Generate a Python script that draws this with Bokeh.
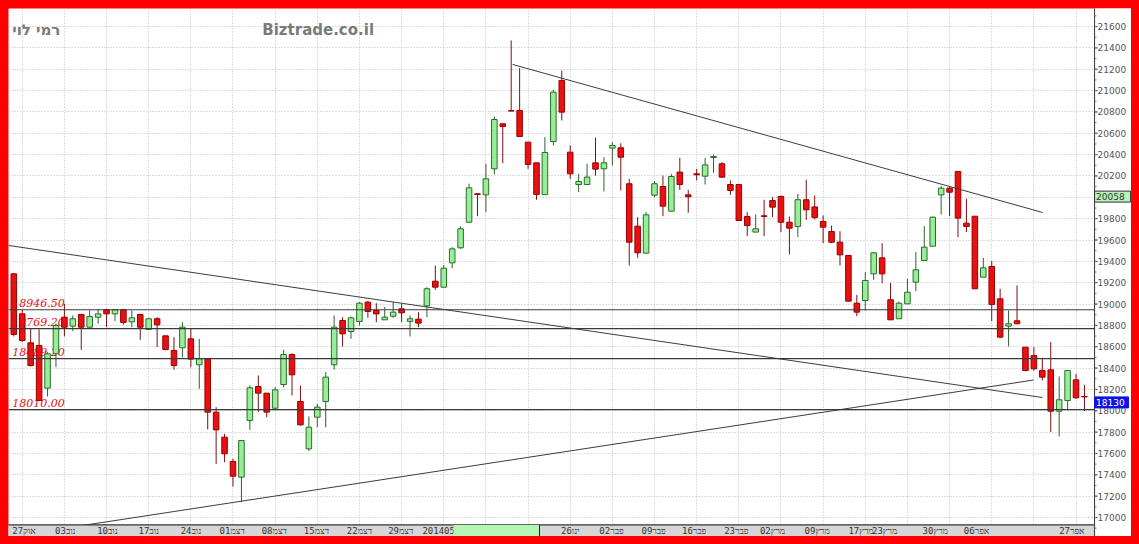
from bokeh.plotting import figure
from bokeh.models import ColumnDataSource, Range1d, FixedTicker, GlobalInlineStyleSheet
from bokeh.embed import file_html
from bokeh.resources import INLINE
from bokeh.core.properties import value

# ---------------- data (daily candles, index 0 = 24 Oct 2013) ----------------
opens = [19283, 18908, 18637, 18612, 18212, 18534, 18877, 18793, 18902, 18783,
         18877, 18946, 18908, 18946, 18833, 18902, 18762, 18862, 18702, 18565,
         18590, 18674, 18431, 18487, 17987, 17753, 17525, 17378, 17909, 18227,
         18165, 18024, 18246, 18527, 18087, 17643, 17940, 18087, 18431, 18846,
         18743, 18837, 19018, 18940, 18852, 18886, 18955, 18837, 18858, 18983,
         19214, 19158, 19386, 19527, 19767, 20033, 20023, 20267, 20689, 20812,
         20814, 20517, 20323, 20025, 20523, 21095, 20423, 20120, 20120, 20323,
         20267, 20461, 20464, 20127, 19730, 19477, 20020, 20101, 19870, 20236,
         20023, 20220, 20198, 20373, 20314, 20120, 20120, 19820, 19674, 19827,
         19970, 20008, 19767, 19727, 19977, 19910, 19774, 19680, 19580, 19455,
         19008, 19033, 19283, 19433, 19040, 18862, 19002, 19205, 19408, 19542,
         20023, 20086, 20242, 19758, 19823, 19252, 19352, 19049, 18793, 18843,
         18596, 18518, 18377, 18384, 17996, 18096, 18290, 18134]
highs = [19290, 18946, 18768, 18762, 18549, 18815, 19002, 18893, 18908, 18940,
         18955, 18955, 18955, 18955, 18940, 18908, 18871, 18877, 18705, 18690,
         18830, 18768, 18674, 18487, 18034, 17784, 17550, 17721, 18237, 18331,
         18165, 18221, 18571, 18540, 18237, 17946, 18065, 18362, 18893, 18877,
         18883, 19018, 19027, 19008, 18971, 19018, 19002, 18893, 18924, 19158,
         19361, 19367, 19533, 19727, 20127, 20033, 20314, 20757, 20689, 21469,
         21210, 20517, 20323, 20564, 21007, 21188, 20486, 20220, 20314, 20560,
         20376, 20517, 20507, 20173, 19814, 19861, 20151, 20204, 20220, 20370,
         20070, 20267, 20367, 20398, 20329, 20158, 20120, 19861, 19839, 19977,
         20002, 20017, 19820, 20033, 20164, 20017, 19830, 19736, 19683, 19455,
         19086, 19299, 19486, 19570, 19199, 19024, 19236, 19486, 19730, 19820,
         20105, 20095, 20242, 19986, 19823, 19433, 19402, 19143, 18940, 19174,
         18596, 18596, 18496, 18643, 18321, 18377, 18346, 18243]
lows = [18696, 18643, 18415, 18090, 18134, 18409, 18696, 18746, 18571, 18768,
        18815, 18783, 18840, 18808, 18783, 18665, 18758, 18596, 18565, 18384,
        18502, 18409, 18206, 17825, 17503, 17518, 17290, 17144, 17821, 17987,
        17940, 18003, 18221, 18143, 17862, 17622, 17846, 17846, 18384, 18602,
        18674, 18799, 18871, 18830, 18852, 18871, 18830, 18696, 18783, 18877,
        19133, 19158, 19336, 19517, 19758, 19823, 19861, 20214, 20320, 20807,
        20570, 20267, 19977, 20025, 20486, 20720, 20173, 20048, 20120, 20204,
        20055, 20298, 20064, 19361, 19433, 19477, 20002, 19823, 19870, 20070,
        19855, 20158, 20120, 20230, 20183, 20023, 19783, 19636, 19674, 19636,
        19814, 19674, 19464, 19627, 19789, 19792, 19570, 19570, 19361, 19027,
        18886, 18940, 19227, 19196, 18852, 18862, 19002, 19121, 19408, 19542,
        19839, 19823, 19627, 19674, 19143, 19252, 18840, 18680, 18602, 18815,
        18371, 18377, 18284, 17800, 17759, 18003, 18112, 17996]
closes = [18715, 18658, 18424, 18096, 18534, 18799, 18783, 18862, 18783, 18883,
          18908, 18908, 18946, 18827, 18871, 18783, 18862, 18805, 18574, 18424,
          18783, 18484, 18487, 17987, 17821, 17597, 17387, 17721, 18215, 18165,
          17987, 18196, 18527, 18337, 17868, 17846, 18034, 18315, 18783, 18721,
          18871, 19008, 18930, 18908, 18877, 18924, 18918, 18862, 18821, 19143,
          19158, 19336, 19517, 19705, 20089, 20027, 20173, 20729, 20664, 20808,
          20570, 20308, 20027, 20420, 20985, 20798, 20220, 20148, 20189, 20264,
          20323, 20486, 20376, 19580, 19480, 19836, 20127, 19917, 20195, 20120,
          20005, 20211, 20304, 20383, 20189, 20064, 19783, 19736, 19705, 19820,
          19908, 19767, 19711, 19977, 19883, 19810, 19720, 19580, 19461, 19027,
          18924, 19221, 19480, 19283, 18852, 19008, 19111, 19321, 19533, 19814,
          20086, 20048, 19805, 19727, 19143, 19339, 18996, 18690, 18815, 18815,
          18377, 18393, 18315, 17996, 18103, 18377, 18121, 18130]

levels = [18946.50, 18769.20, 18489.20, 18010.00]
level_labels = ["18946.50", "18769.20", "18489.20", "18010.00"]

# trend lines (bar index, index points)
trend_x0 = [59.16, -0.63, 8.15]
trend_y0 = [21245, 19549, 16925]
trend_x1 = [122.03, 122.03, 120.96]
trend_y1 = [19858, 18124, 18288]

tick_pos = [1.2, 6.1, 11.1, 16.0, 21.0, 25.9, 30.9, 35.9, 41.0, 45.9, 50.4,
            66.0, 70.9, 75.9, 80.7, 85.7, 90.0, 95.3, 100.5, 103.3, 109.3, 114.2, 125.5]
tick_labels = ["27אוק", "03נוב", "10נוב", "17נוב", "24נוב", "01דצמ", "08דצמ", "15דצמ",
               "22דצמ", "29דצמ", "201405", "26ינו", "02פבר", "09פבר", "16פבר", "23פבר",
               "02מרץ", "09מרץ", "17מרץ", "23מרץ", "30מרץ", "06אפר", "27אפר"]
grid_pos = list(range(1, 128, 5))
y_ticks = list(range(17000, 21601, 200))
y_minor = list(range(16900, 21800, 100))

last_value = 18130
marker_value = 20058
cursor_left, cursor_right = 52.16, 62.36

# ---------------- geometry ----------------
PX = 8.43          # pixels per bar
PY = 0.10673       # pixels per index point
X0, X1 = -0.63, 132.58
AXIS_X = 128.2     # position of the price axis line (in bar units)
Y0, Y1 = 16822, 21769
BAND_TOP = 16930

p = figure(width=1123, height=528, x_range=Range1d(X0, X1), y_range=Range1d(Y0, Y1),
           output_backend="svg", toolbar_location=None, x_axis_location=None,
           y_axis_location=None, min_border_left=0, min_border_top=0,
           min_border_bottom=0, min_border_right=0, outline_line_color=None,
           background_fill_color="white", border_fill_color="white")
p.stylesheets = [GlobalInlineStyleSheet(
    css="html { background-color: #ff0000 !important; } "
        "body { background-color: #ff0000 !important; padding: 8px !important; "
        "margin: 0 !important; box-sizing: border-box !important; overflow: hidden !important; }")]

# grids
p.xgrid.ticker = FixedTicker(ticks=grid_pos)
p.xgrid.grid_line_color = "#bcbcbc"
p.xgrid.grid_line_dash = "1 2"
p.ygrid.ticker = FixedTicker(ticks=y_ticks + [21800])
p.ygrid.grid_line_color = "#bcbcbc"
p.ygrid.grid_line_dash = "1 2"

# level labels (under candles)
p.text(x=[-0.19] * len(levels), y=[v + 3 / PY for v in levels], text=level_labels,
       text_font=value("DejaVu Serif"), text_font_style="italic", text_font_size="11px",
       text_color="#e81010", text_baseline="bottom", text_align="left")

# candles
idx = list(range(len(opens)))
up = [c > o for o, c in zip(opens, closes)]
src = ColumnDataSource(dict(
    x=idx, o=opens, h=highs, l=lows, c=closes,
    top=[max(o, c) for o, c in zip(opens, closes)],
    bottom=[min(o, c) for o, c in zip(opens, closes)],
    fill=["#98ee98" if u else "#e81010" for u in up],
    edge=["#2a6e2a" if u else "#9a0000" for u in up],
    wick=["#2f5f2f" if u else "#7a1010" for u in up],
))
p.segment(x0="x", y0="h", x1="x", y1="l", line_color="wick", line_width=1, source=src)
p.vbar(x="x", width=0.66, top="top", bottom="bottom", fill_color="fill",
       line_color="edge", line_width=1, source=src)

# horizontal levels
p.segment(x0=[X0] * len(levels), y0=levels, x1=[AXIS_X] * len(levels), y1=levels,
          line_color="#3a3a3a", line_width=1.2)

# trend lines
p.segment(x0=trend_x0, y0=trend_y0, x1=trend_x1, y1=trend_y1, line_color="#3c3c3c", line_width=1)

# bottom date band
p.quad(left=[X0 - 1], right=[AXIS_X], bottom=[Y0 - 100], top=[BAND_TOP],
       fill_color="#d6d6d6", line_color=None)
p.segment(x0=[X0 - 1], y0=[BAND_TOP], x1=[AXIS_X], y1=[BAND_TOP], line_color="#333333", line_width=1.2)
p.text(x=tick_pos, y=[(Y0 + BAND_TOP) / 2] * len(tick_pos), text=tick_labels,
       text_font=value("DejaVu Sans Mono"), text_font_size="9px", text_color="#333333",
       text_align="center", text_baseline="middle")
p.quad(left=[cursor_left], right=[cursor_right], bottom=[Y0 - 100], top=[BAND_TOP],
       fill_color="#b4f4b4", line_color=None)
p.segment(x0=[cursor_right], y0=[Y0 + 5], x1=[cursor_right], y1=[BAND_TOP], line_color="#222222")

# price axis (right)
p.quad(left=[AXIS_X], right=[X1 + 1], bottom=[Y0 - 100], top=[Y1 + 100],
       fill_color="white", line_color=None)
p.segment(x0=[AXIS_X], y0=[Y0 - 100], x1=[AXIS_X], y1=[Y1 + 100], line_color="#333333", line_width=1)
p.segment(x0=[AXIS_X] * len(y_ticks), y0=y_ticks, x1=[AXIS_X + 3 / PX] * len(y_ticks), y1=y_ticks,
          line_color="#333333", line_width=1)
p.segment(x0=[AXIS_X] * len(y_minor), y0=y_minor, x1=[AXIS_X + 2 / PX] * len(y_minor), y1=y_minor,
          line_color="#777777", line_width=1)
p.text(x=[AXIS_X + 3 / PX] * len(y_ticks), y=y_ticks, text=[str(t) for t in y_ticks],
       text_font=value("DejaVu Sans"), text_font_size="9px", text_color="#555555",
       text_align="left", text_baseline="middle")

# value markers on the price axis
box_r = AXIS_X + 36 / PX
box_h = 11 / PY
p.quad(left=[AXIS_X], right=[box_r], top=[marker_value], bottom=[marker_value - box_h],
       fill_color="#b4f4b4", line_color="#333333")
p.text(x=[AXIS_X + 1.5 / PX], y=[marker_value - box_h / 2], text=[str(marker_value)],
       text_font=value("DejaVu Sans"), text_font_size="9px", text_color="#333333",
       text_align="left", text_baseline="middle")
p.quad(left=[AXIS_X], right=[box_r - 2 / PX], top=[last_value], bottom=[last_value - box_h],
       fill_color="#1212e6", line_color="#1212e6")
p.text(x=[AXIS_X + 1.5 / PX], y=[last_value - box_h / 2], text=[str(last_value)],
       text_font=value("DejaVu Sans"), text_font_size="9px", text_color="white",
       text_align="left", text_baseline="middle")

# titles
p.text(x=[-0.19], y=[21650], text=["רמי לוי"], text_font=value("DejaVu Sans"),
       text_font_style="bold", text_font_size="15px", text_color="#7a7a7a",
       text_baseline="top", text_align="left")
p.text(x=[29.47], y=[21650], text=["Biztrade.co.il"], text_font=value("DejaVu Sans"),
       text_font_style="bold", text_font_size="15px", text_color="#7a7a7a",
       text_baseline="top", text_align="left")

open("out.html", "w").write(file_html(p, INLINE))
